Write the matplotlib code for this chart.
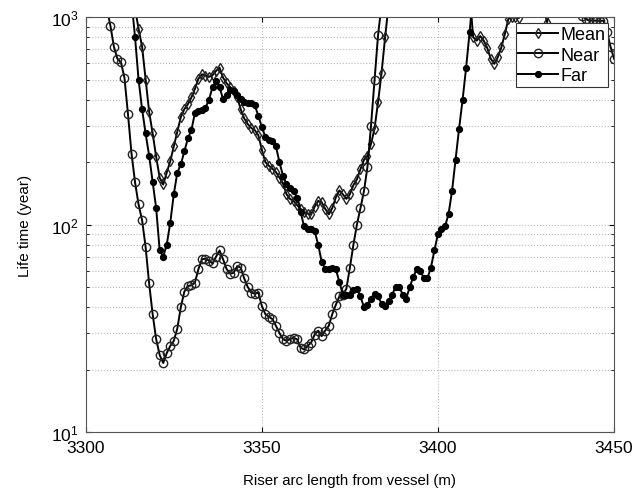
import numpy as np
import matplotlib
matplotlib.use('Agg')
import matplotlib.pyplot as plt

plt.rcParams['font.family'] = ['Liberation Sans', 'DejaVu Sans']

# arc length positions (m), one sample per metre
x = np.arange(3300, 3451)

OFF = 5000.0  # above the top of the axis

# fatigue life (years)
mean_life = [OFF] * 13 + [
    1500, 1100, 880, 720, 500, 350, 275, 212, 168, 156,            # 3313-3322
    178, 202, 238, 280, 330, 360, 380, 410, 450, 505,              # 3323-3332
    530, 522, 515, 525, 550, 570, 510, 480, 460, 440,              # 3333-3342
    410, 360, 325, 305, 292, 285, 270, 230, 200, 192,              # 3343-3352
    186, 179, 168, 158, 140, 133, 130, 124, 119, 115,              # 3353-3362
    113, 112, 122, 130, 128, 119, 112, 120, 135, 146,              # 3363-3372
    140, 133, 140, 155, 165, 185, 205, 215, 245, 290,              # 3373-3382
    390, 540, 800, 1150, OFF, OFF, OFF, OFF, OFF, OFF,             # 3383-3392
    OFF, OFF, OFF, OFF, OFF, OFF, OFF, OFF, OFF, OFF,              # 3393-3402
    OFF, OFF, OFF, OFF, OFF, OFF, 1300, 800, 770, 810,             # 3403-3412
    770, 710, 630, 595, 640, 714, 830, 980, 1000, 1000,            # 3413-3422
    990, 1200, OFF, OFF, OFF, OFF, OFF, 1100, 945, 1150,           # 3423-3432
    OFF, OFF, OFF, OFF, OFF, OFF, OFF, OFF, OFF, OFF,              # 3433-3442
    OFF, OFF, OFF, OFF, OFF, OFF, OFF, OFF,                        # 3443-3450
]

near_life = [OFF] * 5 + [
    1400, 1100, 910, 720, 630, 605, 510, 340, 220, 160,            # 3305-3314
    125, 105, 78, 52, 37, 28, 23.5, 21.5, 24, 26,                  # 3315-3324
    27.5, 31.5, 40, 47.5, 50.5, 51, 52.5, 61, 68, 68.5,            # 3325-3334
    67, 65, 70, 75, 68, 61, 58, 58.5, 63, 62,                      # 3335-3344
    55, 50, 47, 46.5, 47, 40.5, 37, 36, 35, 32.5,                  # 3345-3354
    30, 28, 27.5, 28, 28.5, 28, 25.5, 25, 26, 27,                  # 3355-3364
    29.5, 30.8, 29, 30.8, 32.5, 37, 41, 45, 46, 49,                # 3365-3374
    62, 80, 100, 120, 145, 190, 300, 500, 820, 1150,               # 3375-3384
] + [OFF] * 55 + [
    1200, 1010, 980, 960, 965, 960, 960, 960, 850, 720, 630,       # 3440-3450
]

far_life = [OFF] * 13 + [
    1200, 800, 500, 360, 275, 215, 160, 120, 75, 70,               # 3313-3322
    80, 102, 140, 178, 195, 225, 260, 285, 345, 354,               # 3323-3332
    356, 365, 400, 460, 490, 458, 403, 420, 445, 440,              # 3333-3342
    420, 405, 390, 387, 387, 375, 335, 295, 265, 256,              # 3343-3352
    254, 238, 200, 172, 156, 150, 145, 135, 115, 98,               # 3353-3362
    95, 95, 93, 80, 66, 61, 61, 62, 61, 53,                        # 3363-3372
    46, 45.5, 46, 48.5, 49, 45, 40, 41, 44, 46.5,                  # 3373-3382
    45, 41.5, 40.5, 43, 46, 50, 50, 46, 44, 50,                    # 3383-3392
    56, 61, 60, 55, 55, 62, 75, 90, 95, 98,                        # 3393-3402
    112, 145, 205, 290, 400, 570, 850, 1300,                       # 3403-3410
] + [OFF] * 40

fig = plt.figure(figsize=(6.35, 4.89), dpi=100)
ax = fig.add_axes([0.135, 0.1145, 0.832, 0.8485])

ax.semilogy(x, mean_life, '-d', color='k', lw=1.4, ms=5, mfc='none', mec='#222222', mew=1.0, label='Mean')
ax.semilogy(x, near_life, '-o', color='k', lw=1.4, ms=6, mfc='none', mec='#222222', mew=1.0, label='Near')
ax.semilogy(x, far_life, '-o', color='k', lw=1.4, ms=4.2, mfc='k', mec='k', label='Far')

ax.set_xlim(3300, 3450)
ax.set_ylim(10, 1000)
ax.set_xticks([3300, 3350, 3400, 3450])

ax.grid(True, which='major', axis='both', linestyle=':', color='#b8b8b8', lw=0.8)
ax.grid(True, which='minor', axis='y', linestyle=':', color='#b8b8b8', lw=0.8)
ax.tick_params(which='both', direction='in', top=True, right=True, labelsize=12.5)
ax.tick_params(axis='x', which='minor', bottom=False, top=False)
ax.tick_params(axis='x', pad=6)
ax.tick_params(axis='y', pad=5)
for s in ax.spines.values():
    s.set_color('#555555')

ax.set_xlabel('Riser arc length from vessel (m)', fontsize=10.8, labelpad=13)
ax.set_ylabel('Life time (year)', fontsize=11, labelpad=14)

leg = ax.legend(loc='upper right', fontsize=13, fancybox=False, edgecolor='#333333',
                framealpha=1, handlelength=2.2, borderpad=0.15, labelspacing=0.2,
                handletextpad=0.1, borderaxespad=0.35)
leg.get_frame().set_linewidth(0.8)

plt.savefig('out.png', dpi=100)
